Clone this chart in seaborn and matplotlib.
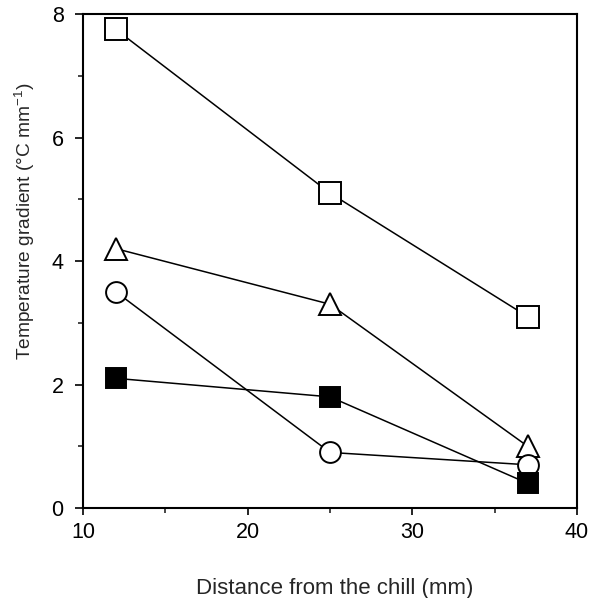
import matplotlib
matplotlib.use("Agg")
import matplotlib.pyplot as plt
import seaborn as sns
import pandas as pd
from matplotlib.ticker import MultipleLocator

distance = [12, 25, 37]
open_square = [7.75, 5.1, 3.1]
triangle = [4.2, 3.3, 1.0]
circle = [3.5, 0.9, 0.7]
filled_square = [2.1, 1.8, 0.4]

series_names = ["open_square", "triangle", "circle", "filled_square"]
series_vals = [open_square, triangle, circle, filled_square]

rows = []
for name, vals in zip(series_names, series_vals):
    for x, y in zip(distance, vals):
        rows.append({"series": name, "distance": x, "gradient": y})
df = pd.DataFrame(rows)

sns.set_theme(style="ticks")
plt.rcParams['font.family'] = ['Liberation Sans', 'DejaVu Sans']

fig = plt.figure(figsize=(5.96, 5.98), dpi=100)
ax = fig.add_axes([0.1393, 0.1505, 0.8289, 0.826])

styles = {
    "open_square": dict(marker="s", mfc="white", ms=15.5),
    "triangle": dict(marker="^", mfc="white", ms=16),
    "circle": dict(marker="o", mfc="white", ms=15),
    "filled_square": dict(marker="s", mfc="black", ms=14),
}
for name in series_names:
    sub = df[df.series == name]
    st = styles[name]
    sns.lineplot(data=sub, x="distance", y="gradient", ax=ax, color="black",
                 linewidth=1.1, marker=st["marker"], markersize=st["ms"],
                 markerfacecolor=st["mfc"], markeredgecolor="black",
                 markeredgewidth=1.4, legend=False, zorder=3)

ax.set_xlim(10, 40)
ax.set_ylim(0, 8)
ax.xaxis.set_major_locator(MultipleLocator(10))
ax.xaxis.set_minor_locator(MultipleLocator(5))
ax.yaxis.set_major_locator(MultipleLocator(2))
ax.yaxis.set_minor_locator(MultipleLocator(1))
ax.tick_params(which="major", direction="out", width=1.2, labelsize=15.5, colors="black")
ax.tick_params(axis="x", which="major", length=5, pad=5)
ax.tick_params(axis="y", which="major", length=6, pad=8)
ax.tick_params(which="minor", direction="out", length=3.5, width=1.2)
for sp in ax.spines.values():
    sp.set_visible(True)
    sp.set_color("black")
    sp.set_linewidth(1.5)

ax.set_xlabel("Distance from the chill (mm)", fontsize=16, va="top")
ax.xaxis.set_label_coords(0.509, -0.142)
ax.set_ylabel("Temperature gradient (°C mm$^{\\mathregular{-1}}$)", fontsize=13.8)
ax.yaxis.set_label_coords(-0.093, 0.58)

fig.savefig("out.png", dpi=100)
